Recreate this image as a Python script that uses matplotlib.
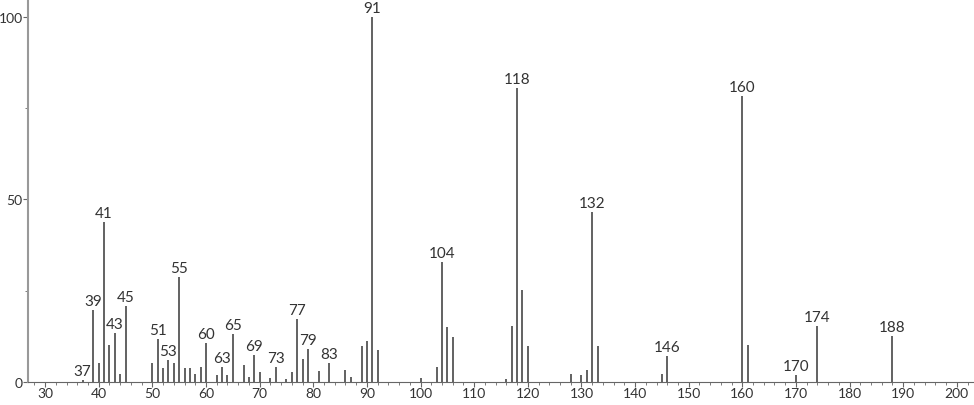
import matplotlib
matplotlib.use("Agg")
import matplotlib.pyplot as plt
from matplotlib.ticker import MultipleLocator

mz = [37, 39, 40, 41, 42, 43, 44, 45, 50, 51, 52, 53, 54, 55, 56, 57, 58, 59,
      60, 62, 63, 64, 65, 67, 68, 69, 70, 72, 73, 75, 76, 77, 78, 79, 81, 83,
      86, 87, 89, 90, 91, 92, 100, 103, 104, 105, 106, 116, 117, 118, 119, 120,
      128, 130, 131, 132, 133, 145, 146, 160, 161, 170, 174, 188]
inten = [0.5, 19.7, 5.2, 43.8, 10.2, 13.3, 2.2, 20.7, 5.3, 11.8, 3.7, 6.1, 5.3, 28.8, 3.7, 3.7, 2.2, 4.2,
         10.6, 2.0, 4.1, 1.9, 13.2, 4.7, 1.5, 7.4, 2.6, 1.1, 4.1, 0.8, 2.6, 17.2, 6.3, 8.9, 3.0, 5.1,
         3.3, 1.3, 9.9, 11.1, 100.0, 8.8, 1.0, 4.2, 32.8, 15.0, 12.4, 0.8, 15.3, 80.5, 25.2, 9.9,
         2.1, 1.9, 3.3, 46.6, 9.9, 2.1, 7.1, 78.2, 10.2, 1.9, 15.3, 12.5]

# piki z etykieta
labelled = [37, 39, 41, 43, 45, 51, 53, 55, 60, 63, 65, 69, 73, 77, 79, 83,
            91, 104, 118, 132, 146, 160, 170, 174, 188]

plt.rcParams['font.family'] = ['Lato', 'DejaVu Sans']

fig = plt.figure(figsize=(9.74, 4.06), dpi=100)
ax = fig.add_axes([0.0287, 0.0567, 0.9713, 0.9433])

ax.vlines(mz, 0, inten, color='#555555', lw=1.3)

for m, v in zip(mz, inten):
    if m in labelled:
        ax.annotate(str(m), (m, v), xytext=(0, 1.5), textcoords='offset points',
                    ha='center', va='bottom', fontsize=11, color='#333333')

ax.set_xlim(26.8, 203.2)
ax.set_ylim(0, 104.9)

ax.xaxis.set_major_locator(MultipleLocator(10))
ax.xaxis.set_minor_locator(MultipleLocator(2))
ax.yaxis.set_major_locator(MultipleLocator(50))
ax.yaxis.set_minor_locator(MultipleLocator(25))

for s in ['top', 'right']:
    ax.spines[s].set_visible(False)
ax.spines['left'].set_color('#999999')
ax.spines['bottom'].set_color('#666666')
ax.spines['left'].set_linewidth(1.5)

ax.tick_params(axis='both', which='major', length=3.5, color='#666666',
               labelsize=10, labelcolor='#333333', pad=0.3)
ax.tick_params(axis='both', which='minor', length=2.5, color='#666666')

plt.savefig('out.png', dpi=100)
